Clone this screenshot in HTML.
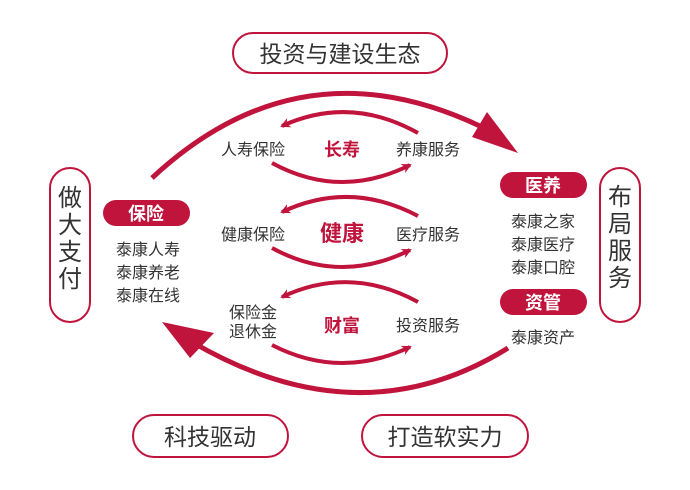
<!DOCTYPE html>
<html><head><meta charset="utf-8"><style>
html,body{margin:0;padding:0;background:#fff;}
svg{display:block}
text{font-family:"Liberation Sans","Noto Sans CJK SC",sans-serif;}
</style></head><body>
<svg width="690" height="490" viewBox="0 0 690 490" xmlns="http://www.w3.org/2000/svg">
<defs>
<marker id="s" markerWidth="10" markerHeight="10" refX="8" refY="5" orient="auto" markerUnits="userSpaceOnUse">
<path d="M0,0 L10,5 L0,10 L3,5 Z" fill="#c0143c"/></marker>
</defs>
<g fill="none" stroke="#c0143c">
<rect x="233" y="33" width="214" height="40" rx="20" stroke-width="2"/>
<rect x="133" y="415" width="155" height="42" rx="21" stroke-width="2"/>
<rect x="362" y="415" width="166" height="42" rx="21" stroke-width="2"/>
<rect x="50" y="168" width="40" height="154" rx="20" stroke-width="2"/>
<rect x="600" y="168" width="40" height="154" rx="20" stroke-width="2"/>
<path d="M152,178 Q300,40 482,127" stroke-width="5"/>
<path d="M508,348 Q360,440 192,342" stroke-width="5"/>
<g stroke-width="4">
<path d="M418,133 Q350,95 282,126" marker-end="url(#s)"/>
<path d="M272,163 Q340,200 410,165" marker-end="url(#s)"/>
<path d="M418,216 Q350,180 282,212" marker-end="url(#s)"/>
<path d="M272,248 Q340,285 410,250" marker-end="url(#s)"/>
<path d="M418,302 Q350,265 282,297" marker-end="url(#s)"/>
<path d="M272,345 Q340,380 410,347" marker-end="url(#s)"/>
</g>
</g>
<g fill="#c0143c">
<path d="M487,112 L518,153 L472,137 Z"/>
<path d="M162,322 L214,333 L190,358 Z"/>
<rect x="103" y="200" width="87" height="26" rx="13"/>
<rect x="500" y="172" width="87" height="26" rx="13"/>
<rect x="500" y="289" width="87" height="26" rx="13"/>
</g>
<g fill="#fff" font-weight="bold" font-size="18" text-anchor="middle">
<text x="146" y="220">保险</text>
<text x="543" y="192">医养</text>
<text x="543" y="309">资管</text>
</g>
<g fill="#333" text-anchor="middle">
<text x="340" y="62" font-size="23">投资与建设生态</text>
<text x="210" y="445" font-size="23">科技驱动</text>
<text x="445" y="445" font-size="23">打造软实力</text>
<g font-size="24"><text x="70" y="206">做</text><text x="70" y="233">大</text><text x="70" y="260">支</text><text x="70" y="287">付</text>
<text x="620" y="205">布</text><text x="620" y="232">局</text><text x="620" y="259">服</text><text x="620" y="286">务</text></g>
<g font-size="16">
<text x="148" y="255">泰康人寿</text><text x="148" y="278">泰康养老</text><text x="148" y="301">泰康在线</text>
<text x="543" y="227">泰康之家</text><text x="543" y="250">泰康医疗</text><text x="543" y="273">泰康口腔</text>
<text x="543" y="343">泰康资产</text>
<text x="253" y="155">人寿保险</text><text x="428" y="155">养康服务</text>
<text x="253" y="240">健康保险</text><text x="428" y="240">医疗服务</text>
<text x="253" y="318">保险金</text><text x="253" y="337">退休金</text><text x="428" y="331">投资服务</text>
</g></g>
<g fill="#c0143c" font-weight="bold" text-anchor="middle">
<text x="342" y="156" font-size="18">长寿</text>
<text x="342" y="241" font-size="22">健康</text>
<text x="342" y="332" font-size="18">财富</text>
</g>
</svg>
</body></html>
